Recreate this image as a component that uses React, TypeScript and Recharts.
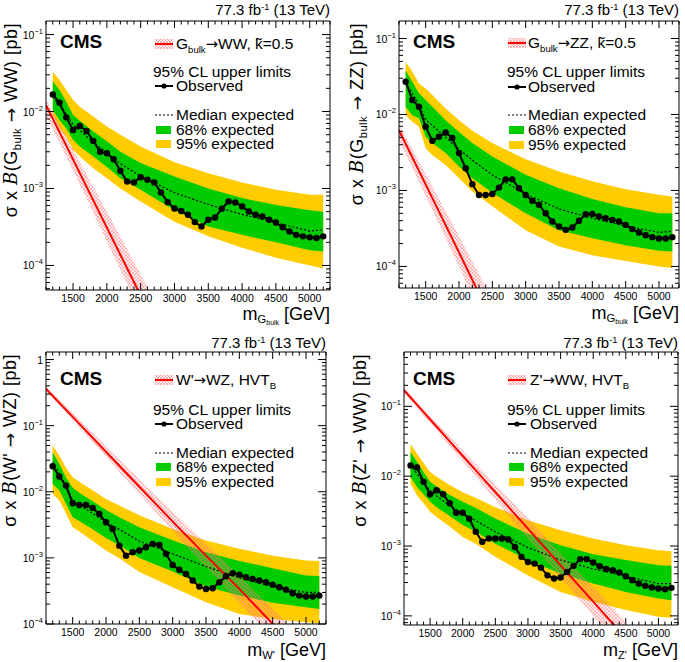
import React from "react";
import { ComposedChart, Line, Area, XAxis, YAxis } from "recharts";

// mass points of the limit scan [GeV]
const MASS = [1200, 1300, 1400, 1500, 1600, 1700, 1800, 1900, 2000, 2100, 2200, 2300, 2400, 2500, 2600, 2700, 2800, 2900, 3000, 3100, 3200, 3300, 3400, 3500, 3600, 3700, 3800, 3900, 4000, 4100, 4200, 4300, 4400, 4500, 4600, 4700, 4800, 4900, 5000, 5100, 5200];
const BAND_MASS = [1200, 1300, 1400, 1500, 1600, 1800, 2000, 2200, 2500, 3000, 3500, 4000, 4500, 5000, 5200];
const X_LABELS = [1500, 2000, 2500, 3000, 3500, 4000, 4500, 5000];
const X_RANGE: [number, number] = [1100, 5300];

// G_bulk -> WW
const G_WW_OBS = [0.0167, 0.013, 0.0084, 0.00575, 0.0065, 0.00558, 0.00415, 0.003, 0.00287, 0.0024, 0.0017, 0.00123, 0.0012, 0.0014, 0.0013, 0.0012, 0.00089, 0.000665, 0.00055, 0.00051, 0.000456, 0.000366, 0.000322, 0.000393, 0.00042, 0.000546, 0.00068, 0.00066, 0.000585, 0.000503, 0.000456, 0.000434, 0.000393, 0.000362, 0.000313, 0.000277, 0.00025, 0.000239, 0.000232, 0.000227, 0.000239];
const G_WW_EXP = [0.0155, 0.012, 0.0092, 0.0068, 0.0057, 0.004, 0.0029, 0.0021, 0.00145, 0.00088, 0.00062, 0.00046, 0.00036, 0.00028, 0.00029];
const G_WW_HI68 = [0.0248, 0.019, 0.0134, 0.009, 0.0076, 0.0055, 0.0041, 0.003, 0.00214, 0.00143, 0.001, 0.00075, 0.00061, 0.00052, 0.0005];
const G_WW_LO68 = [0.0105, 0.0077, 0.006, 0.0043, 0.0035, 0.0026, 0.0019, 0.00136, 0.00096, 0.00052, 0.00032, 0.00025, 0.0002, 0.000158, 0.000152];
const G_WW_HI95 = [0.0328, 0.0256, 0.019, 0.0141, 0.0115, 0.0086, 0.0064, 0.005, 0.0035, 0.0022, 0.00158, 0.0012, 0.00096, 0.00083, 0.00083];
const G_WW_LO95 = [0.009, 0.006, 0.0047, 0.0032, 0.0026, 0.00183, 0.00136, 0.001, 0.00068, 0.00037, 0.00024, 0.00017, 0.000126, 0.0001, 0.000091];
const G_WW_SIG_MASS = [1100, 1400, 1700, 2000, 2300, 2600];
const G_WW_SIG = [0.0121, 0.0036, 0.00105, 0.00031, 0.000092, 0.000027];
const G_WW_SIG_HI = [0.0142, 0.0047, 0.00152, 0.0005, 0.000163, 0.000052];
const G_WW_SIG_LO = [0.0089, 0.0026, 0.00074, 0.000205, 0.000058, 0.0000165];

// G_bulk -> ZZ
const G_ZZ_OBS = [0.027, 0.0155, 0.0126, 0.0069, 0.0045, 0.0051, 0.0058, 0.0049, 0.0031, 0.00196, 0.00121, 0.00087, 0.00087, 0.0009, 0.00109, 0.0014, 0.0014, 0.00107, 0.00087, 0.00073, 0.00065, 0.0005, 0.00039, 0.000335, 0.000303, 0.000325, 0.0004, 0.000486, 0.00049, 0.000454, 0.000431, 0.00041, 0.00039, 0.000352, 0.00031, 0.00028, 0.000258, 0.000243, 0.000233, 0.000233, 0.000243];
const G_ZZ_EXP = [0.026, 0.019, 0.0135, 0.0085, 0.0072, 0.005, 0.0035, 0.0025, 0.0016, 0.0009, 0.00057, 0.00043, 0.00034, 0.00028, 0.00029];
const G_ZZ_HI68 = [0.038, 0.027, 0.019, 0.0155, 0.0126, 0.0084, 0.0059, 0.0042, 0.0028, 0.00161, 0.00107, 0.00077, 0.0006, 0.0005, 0.0005];
const G_ZZ_LO68 = [0.0125, 0.0098, 0.0089, 0.0051, 0.0042, 0.0031, 0.00206, 0.00145, 0.00093, 0.0005, 0.0003, 0.000235, 0.00019, 0.000161, 0.000157];
const G_ZZ_HI95 = [0.049, 0.0365, 0.0256, 0.022, 0.018, 0.012, 0.0084, 0.0061, 0.0042, 0.00257, 0.00177, 0.00132, 0.00104, 0.00088, 0.00083];
const G_ZZ_LO95 = [0.0098, 0.008, 0.0069, 0.0036, 0.0029, 0.00217, 0.00145, 0.00097, 0.00062, 0.0003, 0.000183, 0.00014, 0.000118, 0.0001, 0.000095];
const G_ZZ_SIG_MASS = [1100, 1400, 1700, 2000, 2300, 2500];
const G_ZZ_SIG = [0.0062, 0.00181, 0.000526, 0.000153, 0.000044, 0.000019];
const G_ZZ_SIG_HI = [0.0073, 0.0024, 0.00077, 0.00025, 0.00008, 0.000036];
const G_ZZ_SIG_LO = [0.0046, 0.0013, 0.00036, 0.0001, 0.000027, 0.000011];

// W' -> WZ
const WP_WZ_OBS = [0.0243, 0.017, 0.0124, 0.0067, 0.0063, 0.0063, 0.0057, 0.0046, 0.00346, 0.00274, 0.00153, 0.00108, 0.00122, 0.00129, 0.00145, 0.00163, 0.00157, 0.00115, 0.00078, 0.00066, 0.00057, 0.000454, 0.000368, 0.000339, 0.000347, 0.000428, 0.000527, 0.000586, 0.000559, 0.000509, 0.00048, 0.000454, 0.000428, 0.000394, 0.00036, 0.000331, 0.000292, 0.000269, 0.00026, 0.00026, 0.000269];
const WP_WZ_EXP = [0.028, 0.019, 0.0118, 0.0075, 0.0063, 0.0047, 0.0035, 0.0027, 0.0018, 0.00115, 0.00074, 0.0005, 0.00037, 0.0003, 0.0003];
const WP_WZ_HI68 = [0.0396, 0.0263, 0.0165, 0.0115, 0.0097, 0.0072, 0.0053, 0.0041, 0.0029, 0.00185, 0.00122, 0.0009, 0.0007, 0.00054, 0.00053];
const WP_WZ_LO68 = [0.0131, 0.0105, 0.0066, 0.0041, 0.0036, 0.0027, 0.002, 0.00155, 0.001, 0.00062, 0.00037, 0.00027, 0.00021, 0.000179, 0.000169];
const WP_WZ_HI95 = [0.05, 0.0353, 0.023, 0.0166, 0.0142, 0.0105, 0.0078, 0.0062, 0.0044, 0.00274, 0.00183, 0.00137, 0.00108, 0.00091, 0.0009];
const WP_WZ_LO95 = [0.0093, 0.0074, 0.0047, 0.0029, 0.0025, 0.0018, 0.00129, 0.00099, 0.00061, 0.00036, 0.000213, 0.000142, 0.000119, 0.000106, 0.000102];
const WP_WZ_SIG_MASS = [1100, 1500, 2000, 2500, 3000, 3500, 4000, 4500, 4700];
const WP_WZ_SIG = [0.36, 0.136, 0.0403, 0.0119, 0.00355, 0.00108, 0.00034, 0.0001, 0.00006];
const WP_WZ_SIG_HI = [0.389, 0.154, 0.0484, 0.0155, 0.00497, 0.00162, 0.00054, 0.00017, 0.000105];
const WP_WZ_SIG_LO = [0.335, 0.121, 0.0339, 0.00928, 0.00256, 0.000724, 0.00021, 0.000058, 0.000034];

// Z' -> WW
const ZP_WW_OBS = [0.0142, 0.0133, 0.0083, 0.0055, 0.0063, 0.0055, 0.0041, 0.003, 0.003, 0.00247, 0.0016, 0.00115, 0.00128, 0.00128, 0.00128, 0.00124, 0.00097, 0.0007, 0.00059, 0.00056, 0.00049, 0.00038, 0.000342, 0.000354, 0.000427, 0.00052, 0.00065, 0.00065, 0.00058, 0.000514, 0.00047, 0.00045, 0.000417, 0.00037, 0.000324, 0.00029, 0.000269, 0.000255, 0.000246, 0.000241, 0.000252];
const ZP_WW_EXP = [0.0145, 0.0108, 0.0081, 0.0062, 0.0052, 0.0038, 0.0029, 0.0023, 0.0016, 0.00095, 0.00063, 0.00047, 0.00037, 0.00029, 0.00029];
const ZP_WW_HI68 = [0.0222, 0.016, 0.0115, 0.0083, 0.0071, 0.0054, 0.0043, 0.0035, 0.00247, 0.0015, 0.00103, 0.00076, 0.00063, 0.00053, 0.00052];
const ZP_WW_LO68 = [0.0097, 0.007, 0.0055, 0.0043, 0.0036, 0.0027, 0.002, 0.0016, 0.00108, 0.00063, 0.0004, 0.00029, 0.00022, 0.000177, 0.000168];
const ZP_WW_HI95 = [0.029, 0.021, 0.0155, 0.0115, 0.0098, 0.0075, 0.0059, 0.0049, 0.0036, 0.00234, 0.00168, 0.00128, 0.00103, 0.00087, 0.00084];
const ZP_WW_LO95 = [0.0078, 0.0053, 0.0041, 0.0031, 0.0026, 0.0019, 0.00135, 0.00108, 0.0007, 0.00038, 0.00022, 0.000159, 0.000121, 0.0000968, 0.000094];
const ZP_WW_SIG_MASS = [1100, 1500, 2000, 2500, 3000, 3500, 4000, 4500];
const ZP_WW_SIG = [0.17, 0.065, 0.0195, 0.0059, 0.00177, 0.00053, 0.00016, 0.000048];
const ZP_WW_SIG_HI = [0.184, 0.0735, 0.0234, 0.00767, 0.00248, 0.000795, 0.000256, 0.0000816];
const ZP_WW_SIG_LO = [0.158, 0.0579, 0.0164, 0.0046, 0.00127, 0.000355, 0.0000992, 0.0000278];

const FONT = '"Liberation Sans", Arial, Helvetica, sans-serif';
const GREEN = "#00cc00";
const YELLOW = "#ffcc00";
const RED = "#ff0000";

const X_TICKS: number[] = [];
for (let m = X_RANGE[0]; m <= X_RANGE[1]; m += 100) X_TICKS.push(m);

function logTicks(domain: [number, number]) {
  const out: number[] = [];
  for (let e = Math.floor(Math.log10(domain[0])); e <= Math.ceil(Math.log10(domain[1])); e++) {
    for (let k = 1; k <= 9; k++) {
      const v = k * Math.pow(10, e);
      if (v >= domain[0] && v <= domain[1]) out.push(v);
    }
  }
  return out;
}

const isDecade = (v: number) => Math.abs(Math.log10(v) - Math.round(Math.log10(v))) < 1e-6;

const xTick = (side: "bottom" | "top") => (p: any) => {
  const v = p.payload.value;
  const len = v % 500 === 0 ? 7 : 3.5;
  const d = side === "bottom" ? -1 : 1;
  return (
    <g>
      <line x1={p.x} x2={p.x} y1={p.y} y2={p.y + d * len} stroke="#000" />
      {side === "bottom" && X_LABELS.includes(v) ? (
        <text x={p.x} y={p.y + 12} textAnchor="middle" fontSize={10.5} fontFamily={FONT} fill="#000">
          {v}
        </text>
      ) : null}
    </g>
  );
};

const yTick = (side: "left" | "right") => (p: any) => {
  const v = p.payload.value;
  const major = isDecade(v);
  const len = major ? 8 : 4;
  const d = side === "left" ? 1 : -1;
  const e = Math.round(Math.log10(v));
  return (
    <g>
      <line x1={p.x} x2={p.x + d * len} y1={p.y} y2={p.y} stroke="#000" />
      {side === "left" && major ? (
        <text x={p.x - 3} y={p.y + 4} textAnchor="end" fontSize={10.5} fontFamily={FONT} fill="#000">
          {e === 0 ? "1" : (
            <>
              10<tspan dy={-5} fontSize={7.5}>{`\u2212${-e}`}</tspan>
            </>
          )}
        </text>
      ) : null}
    </g>
  );
};

const Sub = ({ children, drop = 0.4 }: { children: React.ReactNode; drop?: number }) => (
  <span style={{ fontSize: "0.62em", position: "relative", top: `${drop}em` }}>{children}</span>
);
const Sup = ({ children }: { children: React.ReactNode }) => (
  <span style={{ fontSize: "0.62em", position: "relative", top: "-0.55em" }}>{children}</span>
);
const Arrow = () => <span style={{ fontFamily: '"DejaVu Sans", sans-serif', fontSize: "0.95em" }}>→</span>;

type Layout = {
  left: number; top: number; width: number; height: number;
  frame: [number, number, number, number];
  cmsX: number; cmsY: number; lumiY: number;
  symX: number; textX: number; clX: number;
  rows: number[];
  xTitleY: number; yTitleX: number; yTitleTop: number;
};

type PanelProps = {
  id: string;
  lay: Layout;
  yDomain: [number, number];
  obs: number[]; exp: number[];
  lo68: number[]; hi68: number[]; lo95: number[]; hi95: number[];
  sigMass: number[]; sig: number[]; sigLo: number[]; sigHi: number[];
  sigLabel: React.ReactNode; yTitle: React.ReactNode; xTitle: React.ReactNode;
};

function Panel(props: PanelProps) {
  const { id, lay, yDomain } = props;
  const [fl, ft, fr, fb] = lay.frame;
  const obsData = MASS.map((m, i) => ({ m, obs: props.obs[i] }));
  const bandData = BAND_MASS.map((m, i) => ({
    m,
    exp: props.exp[i],
    b68: [props.lo68[i], props.hi68[i]],
    b95: [props.lo95[i], props.hi95[i]],
  }));
  const sigData = props.sigMass.map((m, i) => ({ m, sig: props.sig[i], band: [props.sigLo[i], props.sigHi[i]] }));
  const yTicks = logTicks(yDomain);
  const r = lay.rows;
  const txt: React.CSSProperties = { position: "absolute", whiteSpace: "nowrap", fontSize: 15.5, lineHeight: "14px", height: 14 };

  return (
    <div style={{ position: "absolute", left: lay.left, top: lay.top, width: lay.width, height: lay.height, fontFamily: FONT, color: "#000" }}>
      <ComposedChart
        width={lay.width}
        height={lay.height}
        margin={{ left: fl - 1, top: ft - 1, right: lay.width - fr - 1, bottom: lay.height - fb - 1 }}
      >
        <defs>
          <pattern id={`hatch-${id}`} width="3.5" height="3.5" patternUnits="userSpaceOnUse">
            <path d="M0,0 L3.5,3.5 M3.5,0 L0,3.5" stroke="#ff7a7a" strokeWidth="0.6" />
          </pattern>
        </defs>
        <XAxis xAxisId="b" dataKey="m" type="number" domain={X_RANGE} allowDataOverflow ticks={X_TICKS} interval={0}
          tick={xTick("bottom")} tickLine={false} tickSize={0} tickMargin={0} height={1} axisLine={{ stroke: "#000" }} />
        <XAxis xAxisId="t" orientation="top" dataKey="m" type="number" domain={X_RANGE} allowDataOverflow ticks={X_TICKS} interval={0}
          tick={xTick("top")} tickLine={false} tickSize={0} tickMargin={0} height={1} axisLine={{ stroke: "#000" }} />
        <YAxis yAxisId="l" type="number" scale="log" domain={yDomain} allowDataOverflow ticks={yTicks} interval={0}
          tick={yTick("left")} tickLine={false} tickSize={0} tickMargin={0} width={1} axisLine={{ stroke: "#000" }} />
        <YAxis yAxisId="r" orientation="right" type="number" scale="log" domain={yDomain} allowDataOverflow ticks={yTicks} interval={0}
          tick={yTick("right")} tickLine={false} tickSize={0} tickMargin={0} width={1} axisLine={{ stroke: "#000" }} />
        <Area xAxisId="b" yAxisId="l" data={bandData} dataKey="b95" type="linear" stroke="none" fill={YELLOW} fillOpacity={1} isAnimationActive={false} activeDot={false} />
        <Area xAxisId="b" yAxisId="l" data={bandData} dataKey="b68" type="linear" stroke="none" fill={GREEN} fillOpacity={1} isAnimationActive={false} activeDot={false} />
        <Line xAxisId="b" yAxisId="l" data={bandData} dataKey="exp" type="linear" stroke="#000" strokeWidth={1.2} strokeDasharray="2 2" dot={false} activeDot={false} isAnimationActive={false} />
        <Line xAxisId="b" yAxisId="l" data={obsData} dataKey="obs" type="linear" stroke="#000" strokeWidth={2}
          dot={{ r: 3.2, fill: "#000", stroke: "#000", strokeWidth: 0 }} activeDot={false} isAnimationActive={false} />
        <Area xAxisId="b" yAxisId="l" data={sigData} dataKey="band" type="linear" stroke="none" fill={`url(#hatch-${id})`} fillOpacity={1} isAnimationActive={false} activeDot={false} />
        <Line xAxisId="b" yAxisId="l" data={sigData} dataKey="sig" type="linear" stroke={RED} strokeWidth={2} dot={false} activeDot={false} isAnimationActive={false} />
      </ComposedChart>

      {/* lumi label */}
      <div style={{ position: "absolute", left: fr - 250, width: 250, textAlign: "right", top: lay.lumiY - 9, fontSize: 15, lineHeight: "18px", whiteSpace: "nowrap" }}>
        77.3 fb<Sup>-1</Sup> (13 TeV)
      </div>
      {/* CMS */}
      <div style={{ position: "absolute", left: lay.cmsX, top: lay.cmsY - 11, fontSize: 19, fontWeight: "bold", lineHeight: "22px" }}>CMS</div>

      {/* legend */}
      <svg style={{ position: "absolute", left: lay.symX, top: r[0] - 5 }} width={18} height={10}>
        <defs>
          <pattern id={`lh-${id}`} width="3" height="3" patternUnits="userSpaceOnUse">
            <path d="M0,0 L3,3 M3,0 L0,3" stroke="#ff7a7a" strokeWidth="0.6" />
          </pattern>
        </defs>
        <rect width={18} height={10} fill={`url(#lh-${id})`} />
        <line x1={0} x2={18} y1={5} y2={5} stroke={RED} strokeWidth={2} />
      </svg>
      <div style={{ ...txt, left: lay.textX, top: r[0] - 7 }}>{props.sigLabel}</div>
      <div style={{ ...txt, left: lay.clX, top: r[1] - 7 }}>95% CL upper limits</div>
      <svg style={{ position: "absolute", left: lay.symX, top: r[2] - 5 }} width={18} height={10}>
        <line x1={0} x2={18} y1={5} y2={5} stroke="#000" strokeWidth={2} />
        <circle cx={9} cy={5} r={2.6} fill="#000" />
      </svg>
      <div style={{ ...txt, left: lay.textX, top: r[2] - 7 }}>Observed</div>
      <svg style={{ position: "absolute", left: lay.symX, top: r[3] - 5 }} width={18} height={10}>
        <line x1={0} x2={18} y1={5} y2={5} stroke="#000" strokeWidth={1.2} strokeDasharray="2 2" />
      </svg>
      <div style={{ ...txt, left: lay.textX, top: r[3] - 7 }}>Median expected</div>
      <div style={{ position: "absolute", left: lay.symX + 1, top: r[4] - 4, width: 15, height: 8, background: GREEN }} />
      <div style={{ ...txt, left: lay.textX, top: r[4] - 7 }}>68% expected</div>
      <div style={{ position: "absolute", left: lay.symX + 1, top: r[5] - 4, width: 15, height: 8, background: YELLOW }} />
      <div style={{ ...txt, left: lay.textX, top: r[5] - 7 }}>95% expected</div>

      {/* axis titles */}
      <div style={{ position: "absolute", left: fr - 250, width: 250, textAlign: "right", top: lay.xTitleY - 9, fontSize: 18, lineHeight: "18px", whiteSpace: "nowrap" }}>
        {props.xTitle}
      </div>
      <div
        style={{
          position: "absolute", left: lay.yTitleX, top: lay.yTitleTop, transformOrigin: "0 0",
          transform: "rotate(-90deg) translate(-100%, -50%)", fontSize: 18, letterSpacing: 0.5, lineHeight: "20px", whiteSpace: "nowrap",
        }}
      >
        {props.yTitle}
      </div>
    </div>
  );
}

const B = () => <span style={{ fontStyle: "italic", fontFamily: '"DejaVu Serif", serif' }}>B</span>;

const LAYOUTS: Layout[] = [
  { left: 0, top: 0, width: 343, height: 331, frame: [46, 21, 330, 290], cmsX: 60, cmsY: 42, lumiY: 10, symX: 155, textX: 176, clX: 153, rows: [44, 72, 86, 115, 130, 144], xTitleY: 314, yTitleX: 12, yTitleTop: 23 },
  { left: 343, top: 0, width: 342, height: 331, frame: [56, 21, 336, 288], cmsX: 70, cmsY: 42, lumiY: 10, symX: 165, textX: 185, clX: 164, rows: [43, 72, 87, 115, 130, 145], xTitleY: 313, yTitleX: 15, yTitleTop: 23 },
  { left: 0, top: 331, width: 343, height: 331, frame: [46, 21, 326, 293], cmsX: 60, cmsY: 48, lumiY: 12, symX: 155, textX: 176, clX: 153, rows: [49, 79, 93, 122, 136, 151], xTitleY: 319, yTitleX: 10, yTitleTop: 23 },
  { left: 343, top: 331, width: 342, height: 331, frame: [61, 21, 335, 294], cmsX: 70, cmsY: 48, lumiY: 12, symX: 165, textX: 187, clX: 164, rows: [49, 79, 93, 122, 136, 151], xTitleY: 319, yTitleX: 17, yTitleTop: 23 },
];

export default function App() {
  return (
    <div style={{ position: "absolute", left: 0, top: 0, width: 685, height: 662, background: "#fff", overflow: "hidden" }}>
      <Panel
        id="gww" lay={LAYOUTS[0]} yDomain={[4.8e-5, 0.15]}
        obs={G_WW_OBS} exp={G_WW_EXP} lo68={G_WW_LO68} hi68={G_WW_HI68} lo95={G_WW_LO95} hi95={G_WW_HI95}
        sigMass={G_WW_SIG_MASS} sig={G_WW_SIG} sigLo={G_WW_SIG_LO} sigHi={G_WW_SIG_HI}
        sigLabel={<>G<Sub>bulk</Sub><Arrow />WW, k̃=0.5</>}
        yTitle={<>σ x <B />(G<Sub>bulk</Sub> <Arrow /> WW) [pb]</>}
        xTitle={<>m<Sub drop={0.3}>G<Sub drop={0.3}>bulk</Sub></Sub> [GeV]</>}
      />
      <Panel
        id="gzz" lay={LAYOUTS[1]} yDomain={[5.2e-5, 0.17]}
        obs={G_ZZ_OBS} exp={G_ZZ_EXP} lo68={G_ZZ_LO68} hi68={G_ZZ_HI68} lo95={G_ZZ_LO95} hi95={G_ZZ_HI95}
        sigMass={G_ZZ_SIG_MASS} sig={G_ZZ_SIG} sigLo={G_ZZ_SIG_LO} sigHi={G_ZZ_SIG_HI}
        sigLabel={<>G<Sub>bulk</Sub><Arrow />ZZ, k̃=0.5</>}
        yTitle={<>σ x <B />(G<Sub>bulk</Sub> <Arrow /> ZZ) [pb]</>}
        xTitle={<>m<Sub drop={0.3}>G<Sub drop={0.3}>bulk</Sub></Sub> [GeV]</>}
      />
      <Panel
        id="wpwz" lay={LAYOUTS[2]} yDomain={[1e-4, 1.3]}
        obs={WP_WZ_OBS} exp={WP_WZ_EXP} lo68={WP_WZ_LO68} hi68={WP_WZ_HI68} lo95={WP_WZ_LO95} hi95={WP_WZ_HI95}
        sigMass={WP_WZ_SIG_MASS} sig={WP_WZ_SIG} sigLo={WP_WZ_SIG_LO} sigHi={WP_WZ_SIG_HI}
        sigLabel={<>W'<Arrow />WZ, HVT<Sub>B</Sub></>}
        yTitle={<>σ x <B />(W' <Arrow /> WZ) [pb]</>}
        xTitle={<>m<Sub drop={0.25}>W'</Sub> [GeV]</>}
      />
      <Panel
        id="zpww" lay={LAYOUTS[3]} yDomain={[7.4e-5, 0.6]}
        obs={ZP_WW_OBS} exp={ZP_WW_EXP} lo68={ZP_WW_LO68} hi68={ZP_WW_HI68} lo95={ZP_WW_LO95} hi95={ZP_WW_HI95}
        sigMass={ZP_WW_SIG_MASS} sig={ZP_WW_SIG} sigLo={ZP_WW_SIG_LO} sigHi={ZP_WW_SIG_HI}
        sigLabel={<>Z'<Arrow />WW, HVT<Sub>B</Sub></>}
        yTitle={<>σ x <B />(Z' <Arrow /> WW) [pb]</>}
        xTitle={<>m<Sub drop={0.25}>Z'</Sub> [GeV]</>}
      />
    </div>
  );
}
